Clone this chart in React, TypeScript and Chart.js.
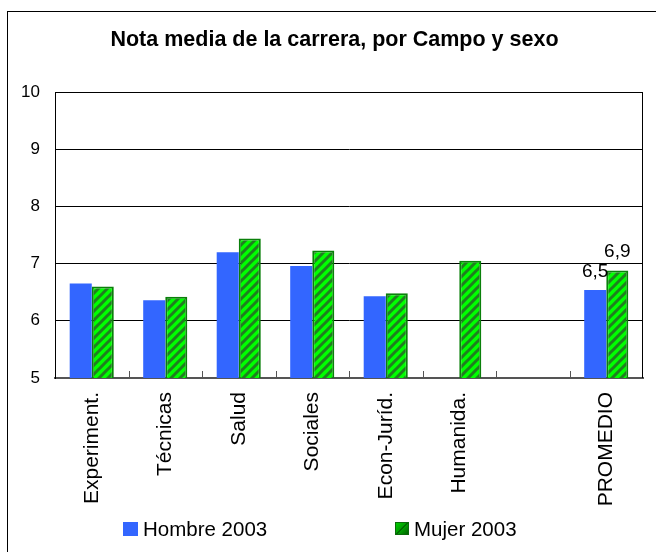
import React, { useEffect, useRef } from "react";
import { Chart, registerables } from "chart.js";

Chart.register(...registerables);

const categories = ["Experiment.", "Técnicas", "Salud", "Sociales", "Econ-Juríd.", "Humanida.", "", "PROMEDIO"];
const hombre2003: (number | null)[] = [6.65, 6.36, 7.2, 6.96, 6.43, null, null, 6.54];
const mujer2003: (number | null)[] = [6.6, 6.42, 7.44, 7.23, 6.48, 7.05, null, 6.88];
const labeledIndex = 7;
const yTicks = [5, 6, 7, 8, 9, 10];
const titleText = "Nota media de la carrera, por Campo y sexo";

const FONT = "'Liberation Sans', Arial, sans-serif";

function makeHatch(): CanvasPattern | string {
  const c = document.createElement("canvas");
  const s = 9;
  c.width = s;
  c.height = s;
  const g = c.getContext("2d");
  if (!g) return "#00ff00";
  g.fillStyle = "#00ff00";
  g.fillRect(0, 0, s, s);
  g.strokeStyle = "#1f7f1f";
  g.lineWidth = 3;
  g.beginPath();
  g.moveTo(-2, s + 2);
  g.lineTo(s + 2, -2);
  g.moveTo(-2, 2);
  g.lineTo(2, -2);
  g.moveTo(s - 2, s + 2);
  g.lineTo(s + 2, s - 2);
  g.stroke();
  const p = g.createPattern(c, "repeat");
  return p || "#00ff00";
}

const framePlugin = {
  id: "frame",
  beforeDraw(chart: any) {
    const ctx = chart.ctx;
    ctx.save();
    ctx.strokeStyle = "#000";
    ctx.lineWidth = 1;
    ctx.strokeRect(7.5, 11.5, 700, 600);
    ctx.fillStyle = "#000";
    ctx.font = `bold 21.5px ${FONT}`;
    ctx.textAlign = "center";
    ctx.textBaseline = "middle";
    ctx.fillText(titleText, 334.5, 40);
    ctx.restore();
  },
  afterDraw(chart: any) {
    const ctx = chart.ctx;
    const a = chart.chartArea;
    const x = chart.scales.x;
    ctx.save();
    ctx.strokeStyle = "#000";
    ctx.lineWidth = 1;
    ctx.beginPath();
    ctx.moveTo(Math.round(a.left) + 0.5, Math.round(a.bottom));
    ctx.lineTo(Math.round(a.left) + 0.5, Math.round(a.top) + 0.5);
    ctx.lineTo(Math.round(a.right) - 0.5, Math.round(a.top) + 0.5);
    ctx.lineTo(Math.round(a.right) - 0.5, Math.round(a.bottom));
    ctx.stroke();
    ctx.strokeStyle = "#555";
    ctx.beginPath();
    for (let i = 0; i < categories.length - 1; i++) {
      const bx = Math.round((x.getPixelForValue(i) + x.getPixelForValue(i + 1)) / 2) + 0.5;
      ctx.moveTo(bx, a.bottom);
      ctx.lineTo(bx, a.bottom - 7);
    }
    ctx.stroke();
    ctx.fillStyle = "#000";
    ctx.font = `19px ${FONT}`;
    ctx.textAlign = "center";
    ctx.textBaseline = "alphabetic";
    chart.data.datasets.forEach((ds: any, di: number) => {
      const meta = chart.getDatasetMeta(di);
      const el = meta.data[labeledIndex];
      const v = ds.data[labeledIndex];
      if (el && v != null) {
        ctx.fillText(v.toFixed(1).replace(".", ","), el.x, el.y - 13);
      }
    });
    ctx.restore();
  },
};

export default function App() {
  const ref = useRef<HTMLCanvasElement | null>(null);

  useEffect(() => {
    document.body.style.margin = "0";
    if (!ref.current) return;
    const hatch = makeHatch();
    const chart = new Chart(ref.current, {
      type: "bar",
      data: {
        labels: categories,
        datasets: [
          {
            label: "Hombre 2003",
            data: hombre2003,
            backgroundColor: "#3366ff",
            borderWidth: 0,
            categoryPercentage: 0.6,
            barPercentage: 1.0,
          },
          {
            label: "Mujer 2003",
            data: mujer2003,
            backgroundColor: hatch as any,
            borderColor: "#0a800a",
            borderWidth: 2,
            categoryPercentage: 0.6,
            barPercentage: 1.0,
          },
        ],
      },
      options: {
        animation: false,
        responsive: false,
        maintainAspectRatio: false,
        layout: { padding: { left: 0, right: 13, top: 92, bottom: 0 } },
        plugins: {
          legend: { display: false },
          tooltip: { enabled: false },
          title: { display: false },
        },
        scales: {
          x: {
            grid: { display: false, drawTicks: false },
            border: { display: true, color: "#555", width: 2 },
            ticks: {
              color: "#000",
              font: { family: FONT, size: 21 },
              minRotation: 90,
              maxRotation: 90,
              padding: 14,
              autoSkip: false,
            },
            afterFit: (s: any) => {
              s.height = 174;
            },
          },
          y: {
            min: 5,
            max: 10,
            afterBuildTicks: (s: any) => {
              s.ticks = yTicks.map((v) => ({ value: v }));
            },
            grid: { color: "#000", lineWidth: 1, drawTicks: false },
            border: { display: true, color: "#000", width: 1 },
            ticks: {
              color: "#000",
              font: { family: FONT, size: 17 },
              padding: 15,
            },
            afterFit: (s: any) => {
              s.width = 55;
            },
          },
        },
      },
      plugins: [framePlugin],
    });
    return () => chart.destroy();
  }, []);

  const legendText: React.CSSProperties = {
    position: "absolute",
    top: 515,
    fontFamily: FONT,
    fontSize: 20.5,
    lineHeight: "28px",
    color: "#000",
    whiteSpace: "nowrap",
  };

  return (
    <div style={{ position: "relative", width: 656, height: 552, overflow: "hidden", background: "#fff" }}>
      <canvas ref={ref} width={656} height={552} style={{ position: "absolute", left: 0, top: 0, width: 656, height: 552 }} />
      <div style={{ position: "absolute", left: 123, top: 522, width: 15, height: 14, background: "#3366ff" }} />
      <div style={{ ...legendText, left: 143 }}>Hombre 2003</div>
      <div
        style={{
          position: "absolute",
          left: 395,
          top: 522,
          width: 12,
          height: 11,
          border: "1.5px solid #0a6a0a",
          background: "linear-gradient(135deg, #00d000 0%, #00a000 45%, #004000 50%, #00a000 55%, #006000 100%)",
        }}
      />
      <div style={{ ...legendText, left: 414 }}>Mujer 2003</div>
    </div>
  );
}
